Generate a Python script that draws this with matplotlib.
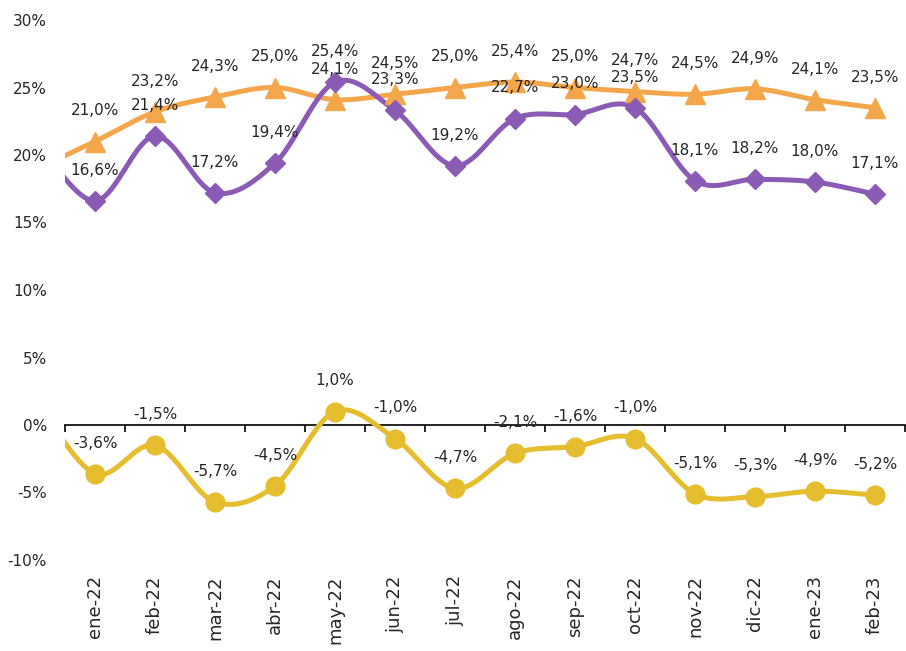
import numpy as np
import matplotlib
matplotlib.use("Agg")
import matplotlib.pyplot as plt

categories = ["ene-22", "feb-22", "mar-22", "abr-22", "may-22", "jun-22", "jul-22",
              "ago-22", "sep-22", "oct-22", "nov-22", "dic-22", "ene-23", "feb-23"]
orange_vals = [21.0, 23.2, 24.3, 25.0, 24.1, 24.5, 25.0, 25.4, 25.0, 24.7, 24.5, 24.9, 24.1, 23.5]
purple_vals = [16.6, 21.4, 17.2, 19.4, 25.4, 23.3, 19.2, 22.7, 23.0, 23.5, 18.1, 18.2, 18.0, 17.1]
yellow_vals = [-3.6, -1.5, -5.7, -4.5, 1.0, -1.0, -4.7, -2.1, -1.6, -1.0, -5.1, -5.3, -4.9, -5.2]
# estimated previous month (dic-21), only visible as the curve entering from the left edge
prev_vals = {"orange": 18.9, "purple": 21.2, "yellow": 2.0}
yticks = [-10, -5, 0, 5, 10, 15, 20, 25, 30]

C_OR = "#F4A64B"
C_PU = "#8B5AB5"
C_YE = "#E6BD2E"
TXT = "#262626"


def smooth(xs, ys, n=40):
    xs = np.asarray(xs, float)
    ys = np.asarray(ys, float)
    P = np.column_stack([xs, ys])
    Pext = np.vstack([P[0], P, P[-1]])
    out = []
    for i in range(len(P) - 1):
        p0, p1, p2, p3 = Pext[i], Pext[i + 1], Pext[i + 2], Pext[i + 3]
        c1 = p1 + (p2 - p0) / 6.0
        c2 = p2 - (p3 - p1) / 6.0
        t = np.linspace(0, 1, n)[:, None]
        seg = ((1 - t) ** 3) * p1 + 3 * ((1 - t) ** 2) * t * c1 + 3 * (1 - t) * t ** 2 * c2 + t ** 3 * p2
        out.append(seg if i == 0 else seg[1:])
    s = np.vstack(out)
    return s[:, 0], s[:, 1]


fig = plt.figure(figsize=(9.06, 6.51), dpi=100)
ax = fig.add_axes([65 / 906, 1 - 560 / 651, 840 / 906, 540 / 651])

x = np.arange(len(categories))
xe = np.concatenate([[-1], x])

series = [
    (orange_vals, prev_vals["orange"], C_OR, "^", 14.5),
    (purple_vals, prev_vals["purple"], C_PU, "D", 10.5),
    (yellow_vals, prev_vals["yellow"], C_YE, "o", 13.5),
]
for vals, pv, col, mk, ms in series:
    sx, sy = smooth(xe, [pv] + list(vals))
    ax.plot(sx, sy, color=col, lw=3.6, solid_capstyle="round", zorder=3)
    ax.plot(x, vals, linestyle="none", marker=mk, ms=ms, color=col, mec=col, zorder=4)
    for xi, v in zip(x, vals):
        ax.annotate(f"{v:.1f}%".replace(".", ","), (xi, v), xytext=(0, 22),
                    textcoords="offset points", ha="center", va="center",
                    fontsize=11, color=TXT, zorder=5)

ax.set_xlim(-0.5, len(categories) - 0.5)
ax.set_ylim(-10, 30)
ax.set_yticks(yticks)
ax.set_yticklabels([f"{t}%" for t in yticks], fontsize=11, color=TXT)
ax.tick_params(axis="y", length=0, pad=13)
ax.set_xticks(x)
ax.set_xticklabels(categories, rotation=90, fontsize=13, color=TXT)
ax.tick_params(axis="x", length=0, pad=11)
for s in ["top", "right", "left", "bottom"]:
    ax.spines[s].set_visible(False)

# zero-line category axis with boundary ticks
sec = ax.secondary_xaxis(0.25)
sec.set_xticks(np.arange(-0.5, len(categories), 1.0))
sec.set_xticklabels([])
sec.tick_params(axis="x", direction="out", length=5, width=1.2, color="black")
sec.spines["bottom"].set_linewidth(1.2)
sec.spines["bottom"].set_color("black")

fig.savefig("out.png", dpi=100)
